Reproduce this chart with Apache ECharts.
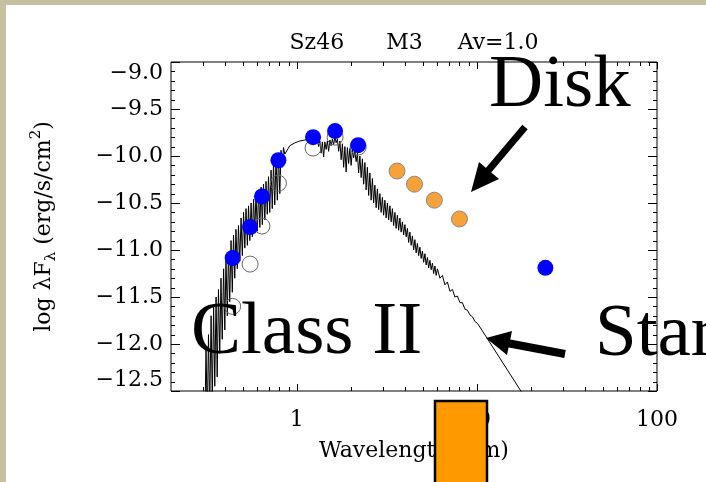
<html>
<head>
<meta charset="UTF-8">
<script src="https://cdn.jsdelivr.net/npm/echarts@6/dist/echarts.min.js"></script>
<style>
body{margin:0;background:#fff;}
#chart{width:706px;height:482px;}
</style>
</head>
<body>
<div id="chart"></div>
<script>
// photometry: blue = dereddened, open = observed, orange = IRAC
var bandWave=[0.44,0.55,0.64,0.79,1.23,1.63,2.19,24];
var bandFlux=[-11.085,-10.755,-10.43,-10.045,-9.80,-9.735,-9.885,-11.19];
var obsWave=[0.44,0.55,0.64,0.79,1.23,1.63,2.19];
var obsFlux=[-11.60,-11.15,-10.745,-10.29,-9.915,-9.80,-9.905];
var iracWave=[3.6,4.5,5.8,8.0];
var iracFlux=[-10.16,-10.30,-10.47,-10.67];
// stellar model spectrum
var specWave=[0.308,0.313,0.318,0.323,0.328,0.334,0.339,0.345,0.350,0.356,0.361,0.367,0.373,0.379,0.385,0.392,0.398,0.404,0.411,0.417,0.424,0.431,0.438,0.445,0.452,0.459,0.467,0.474,0.482,0.490,0.498,0.506,0.514,0.522,0.531,0.539,0.548,0.557,0.566,0.575,0.584,0.593,0.603,0.613,0.623,0.633,0.643,0.653,0.664,0.674,0.685,0.696,0.707,0.719,0.730,0.742,0.754,0.766,0.779,0.791,0.804,0.817,0.830,0.843,0.857,
	0.914,0.975,1.039,1.108,1.181,
	1.259,1.279,1.300,1.321,1.342,1.364,1.386,1.408,1.431,1.454,1.477,1.501,1.525,1.550,1.575,1.600,1.626,1.652,1.679,1.706,1.734,1.762,1.790,1.819,1.848,1.878,1.908,1.939,1.970,2.002,2.034,2.067,2.100,2.134,2.168,2.203,2.239,2.275,2.312,2.349,2.387,2.425,2.464,2.504,2.544,2.585,2.627,2.669,2.712,2.756,2.800,2.845,2.891,2.938,2.985,3.033,3.082,3.132,3.182,3.234,3.286,3.339,3.393,3.447,3.503,3.559,3.617,3.675,3.734,3.794,3.855,3.918,3.981,4.045,4.110,4.176,4.244,4.312,4.382,4.452,4.524,4.597,4.671,4.746,4.823,4.901,4.980,5.060,5.142,5.225,5.309,5.394,5.481,5.570,5.659,5.751,5.843,5.937,6.033,
	6.229,6.431,6.640,6.856,7.079,7.309,7.546,7.792,8.045,8.306,8.577,8.855,9.143,9.440,9.747,10.06,10.39,25.0];
var specFlux=[-12.9,-12.05,-12.8,-11.9,-12.7,-11.7,-12.6,-11.6,-12.45,-11.5,-12.35,-11.42,-12.1,-11.3,-11.95,-11.2,-11.85,-11.1,-11.7,-11.02,-11.55,-10.9,-11.45,-10.84,-11.3,-10.78,-11.2,-10.74,-11.12,-10.66,-11.06,-10.6,-10.98,-10.56,-10.95,-10.53,-10.9,-10.5,-10.86,-10.46,-10.82,-10.4,-10.8,-10.37,-10.76,-10.33,-10.73,-10.3,-10.68,-10.27,-10.62,-10.22,-10.6,-10.15,-10.56,-10.08,-10.52,-10.02,-10.47,-9.97,-10.4,-9.94,-10.12,-9.91,-9.98,
	-9.89,-9.86,-9.84,-9.83,-9.81,
	-9.82,-9.87,-9.83,-9.90,-9.84,-9.97,-9.85,-10.01,-9.85,-9.93,-9.84,-9.95,-9.83,-9.89,-9.82,-9.88,-9.80,-9.86,-9.82,-9.95,-9.84,-10.04,-9.87,-10.12,-9.90,-10.17,-9.91,-10.08,-9.92,-10.10,-9.93,-10.02,-9.95,-10.06,-9.97,-10.18,-10.00,-10.23,-10.03,-10.30,-10.07,-10.36,-10.12,-10.42,-10.18,-10.47,-10.24,-10.50,-10.31,-10.55,-10.35,-10.57,-10.40,-10.60,-10.44,-10.63,-10.47,-10.66,-10.50,-10.68,-10.53,-10.70,-10.56,-10.74,-10.60,-10.77,-10.63,-10.79,-10.66,-10.81,-10.70,-10.84,-10.73,-10.86,-10.77,-10.92,-10.81,-10.95,-10.85,-11.00,-10.89,-11.03,-10.93,-11.06,-10.97,-11.09,-11.01,-11.13,-11.04,-11.16,-11.08,-11.19,-11.11,-11.21,-11.14,-11.25,-11.17,-11.27,-11.20,
	-11.30,-11.27,-11.37,-11.34,-11.44,-11.42,-11.50,-11.49,-11.56,-11.56,-11.63,-11.64,-11.69,-11.71,-11.76,-11.78,-11.82,-12.96];
// tick positions (drawn on all four sides, pointing inward)
var xMajor=[1,10,100];
var xMinor=[0.3,0.4,0.5,0.6,0.7,0.8,0.9,2,3,4,5,6,7,8,9,20,30,40,50,60,70,80,90];
var yMajor=[-12.5,-12.0,-11.5,-11.0,-10.5,-10.0,-9.5,-9.0];
var yMinor=[-12.4,-12.3,-12.2,-12.1,-11.9,-11.8,-11.7,-11.6,-11.4,-11.3,-11.2,-11.1,-10.9,-10.8,-10.7,-10.6,-10.4,-10.3,-10.2,-10.1,-9.9,-9.8,-9.7,-9.6,-9.4,-9.3,-9.2,-9.1];

var serif='DejaVu Serif';
var tan='#c5c0a0';

function pairs(xs,ys){
	return xs.map(function(x,i){return [x,ys[i]];});
}

// [x, y, tick length, 0 = x tick / 1 = y tick]
var tickData=[];
xMajor.forEach(function(v){tickData.push([v,-12.5,7,0]);});
xMinor.forEach(function(v){tickData.push([v,-12.5,4,0]);});
yMajor.forEach(function(v){tickData.push([1,v,9,1]);});
yMinor.forEach(function(v){tickData.push([1,v,4,1]);});

function renderTick(params,api){
	var cs=params.coordSys;
	var len=api.value(2);
	var st={stroke:'#000',lineWidth:1};
	if(api.value(3)===0){
		var x=Math.round(api.coord([api.value(0),-12.5])[0])+0.5;
		var b=cs.y+cs.height;
		return {type:'group',children:[
			{type:'line',shape:{x1:x,y1:b,x2:x,y2:b-len},style:st},
			{type:'line',shape:{x1:x,y1:cs.y,x2:x,y2:cs.y+len},style:st}]};
	}
	var y=Math.round(api.coord([1,api.value(1)])[1])+0.5;
	var r=cs.x+cs.width;
	return {type:'group',children:[
		{type:'line',shape:{x1:cs.x,y1:y,x2:cs.x+len,y2:y},style:st},
		{type:'line',shape:{x1:r,y1:y,x2:r-len,y2:y},style:st}]};
}

var chart=echarts.init(document.getElementById('chart'));
chart.setOption({
	animation:false,
	backgroundColor:'#fff',
	title:{text:'Sz46      M3     Av=1.0',left:414,top:32,textAlign:'center',padding:0,
		textStyle:{fontFamily:serif,fontSize:22,fontWeight:'normal',color:'#000'}},
	grid:{left:171,right:49,top:62,bottom:91,show:true,borderColor:'#000',borderWidth:1},
	xAxis:{type:'log',logBase:10,min:0.2,max:100,position:'bottom',
		axisLine:{show:false,onZero:false},
		axisTick:{show:false},
		splitLine:{show:false},
		axisLabel:{show:true,showMinLabel:false,margin:18,fontFamily:serif,fontSize:22,color:'#000',
			formatter:function(v){return xMajor.indexOf(Math.round(v*1000)/1000)>=0?String(Math.round(v)):'';}},
		name:'{t|Wavelength (}{i|μ}{t|m)}',nameLocation:'middle',nameGap:49,
		nameTextStyle:{rich:{t:{fontFamily:serif,fontSize:22,color:'#000'},i:{fontFamily:serif,fontSize:22,fontStyle:'italic',color:'#000'}}}},
	yAxis:{type:'value',min:-12.5,max:-9,interval:0.5,position:'left',
		axisLine:{show:false,onZero:false},
		axisTick:{show:false},
		splitLine:{show:false},
		axisLabel:{show:true,margin:8,fontFamily:serif,fontSize:22,color:'#000',
			verticalAlignMaxLabel:'top',verticalAlignMinLabel:'bottom',
			formatter:function(v){return v.toFixed(1).replace('-','\u2212');}},
		name:'{t|log λF}{s|λ}{t| (erg/s/cm}{p|2}{t|)}',nameLocation:'middle',nameRotate:90,nameGap:112,
		nameTextStyle:{rich:{
			t:{fontFamily:serif,fontSize:22,lineHeight:30,color:'#000'},
			s:{fontFamily:serif,fontSize:15,verticalAlign:'bottom',color:'#000'},
			p:{fontFamily:serif,fontSize:15,verticalAlign:'top',color:'#000'}}}},
	series:[
		{type:'line',data:pairs(specWave,specFlux),symbol:'none',showSymbol:false,
			lineStyle:{color:'#000',width:1},z:2},
		{type:'scatter',data:pairs(obsWave,obsFlux),symbolSize:16,
			itemStyle:{color:'rgba(0,0,0,0)',borderColor:'#666',borderWidth:1,opacity:1},z:3},
		{type:'scatter',data:pairs(bandWave,bandFlux),symbolSize:16,
			itemStyle:{color:'#0000ff',opacity:1},z:4},
		{type:'scatter',data:pairs(iracWave,iracFlux),symbolSize:16,
			itemStyle:{color:'#f7a13a',borderColor:'#8a8a8a',borderWidth:1,opacity:1},z:4},
		{type:'custom',data:tickData,encode:{x:0,y:1},renderItem:renderTick,silent:true,z:5}
	],
	graphic:[
		{type:'rect',shape:{x:0,y:0,width:706,height:5},style:{fill:tan},z:200},
		{type:'rect',shape:{x:0,y:0,width:6,height:482},style:{fill:tan},z:200},
		{type:'text',left:489,top:49,style:{text:'Disk',fontSize:75,fontFamily:'Liberation Serif',fill:'#000'},z:100},
		{type:'text',left:191,top:296,style:{text:'Class II',fontSize:75,fontFamily:'Liberation Serif',fill:'#000'},z:100},
		{type:'text',left:595,top:298,style:{text:'Star',fontSize:75,fontFamily:'Liberation Serif',fill:'#000'},z:100},
		{type:'line',shape:{x1:525,y1:127,x2:487,y2:172},style:{stroke:'#000',lineWidth:7},z:100},
		{type:'polygon',shape:{points:[[471,192],[499,179],[479,162]]},style:{fill:'#000'},z:100},
		{type:'line',shape:{x1:565,y1:354,x2:507,y2:343},style:{stroke:'#000',lineWidth:8},z:100},
		{type:'polygon',shape:{points:[[486,338],[512,331],[507,355]]},style:{fill:'#000'},z:100},
		{type:'rect',shape:{x:435,y:401,width:52,height:90},style:{fill:'#ff9900',stroke:'#000',lineWidth:2.5},z:100}
	]
});
</script>
</body>
</html>
